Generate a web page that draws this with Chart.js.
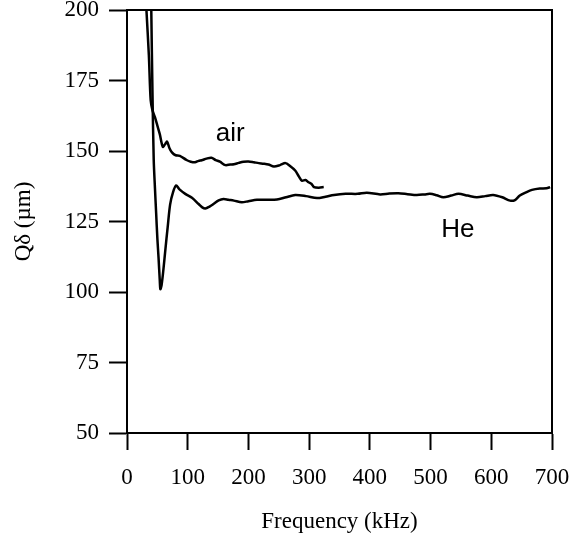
<!DOCTYPE html>
<html>
<head>
<meta charset="utf-8">
<script src="https://cdn.jsdelivr.net/npm/chart.js@4"></script>
<style>
  body { margin: 0; background: #fff; }
  #wrap { width: 587px; height: 541px; position: relative; }
</style>
</head>
<body>
<div id="wrap"><canvas id="chart"></canvas></div>
<script>
// data
const xTicks = [0, 100, 200, 300, 400, 500, 600, 700];
const yTicks = [50, 75, 100, 125, 150, 175, 200];

const airKHz = [32, 36, 39, 42, 46, 50, 54, 59, 63, 66, 70, 74, 80, 87, 98, 105, 112, 118, 123, 131, 139, 146, 153, 162, 170, 176, 184, 192, 200, 209, 217, 225, 233, 242, 252, 261, 268, 277, 283, 288, 294, 299, 304, 308, 316, 324];
const airQ = [200, 184, 168, 164.4, 162, 159, 156, 151.5, 152.5, 153.3, 151, 149.5, 148.5, 148.3, 146.8, 146.2, 146, 146.5, 146.7, 147.3, 147.6, 146.8, 146.2, 145, 145.2, 145.3, 145.8, 146.2, 146.3, 146, 145.7, 145.5, 145.2, 144.5, 145, 145.7, 144.8, 143.1, 141, 139.5, 139.7, 138.9, 138.3, 137.2, 137, 137.2];

const heKHz = [40, 42, 44, 46, 48, 50, 52, 54, 55, 57, 60, 63, 67, 71, 76, 81, 86, 96, 107, 118, 124, 129, 136, 143, 151, 159, 167, 176, 189, 200, 214, 230, 247, 262, 277, 295, 313, 327, 341, 360, 380, 395, 417, 432, 447, 462, 477, 490, 499, 510, 521, 534, 546, 561, 576, 590, 603, 618, 631, 639, 647, 657, 667, 680, 691, 697];
const heQ = [200, 170, 147, 137, 128, 119, 112, 104, 101, 102.5, 108, 114.6, 123, 131, 135.5, 137.8, 136.5, 134.8, 133.4, 131.2, 130, 129.6, 130.3, 131.3, 132.5, 133, 132.7, 132.4, 131.8, 132.2, 132.7, 132.7, 132.8, 133.6, 134.4, 134, 133.3, 133.8, 134.4, 134.8, 134.8, 135.2, 134.6, 134.9, 135, 134.7, 134.4, 134.6, 134.8, 134.3, 133.6, 134.2, 134.8, 134.2, 133.6, 134, 134.4, 133.6, 132.4, 132.6, 134.2, 135.3, 136.2, 136.7, 136.8, 137.2];

const labels = [
  { text: "air", x: 170, y: 156 },
  { text: "He", x: 545, y: 122 }
];

const toPoints = (xs, ys) => xs.map((x, i) => ({ x: x, y: ys[i] }));

// frame round the plot plus the two curve labels
const framePlugin = {
  id: "frame",
  afterDraw(chart) {
    const { ctx, chartArea, scales } = chart;
    ctx.save();
    ctx.strokeStyle = "#000";
    ctx.lineWidth = 2;
    ctx.strokeRect(chartArea.left, chartArea.top, chartArea.right - chartArea.left, chartArea.bottom - chartArea.top);
    ctx.fillStyle = "#000";
    ctx.font = "26px 'Liberation Sans', Arial, sans-serif";
    ctx.textAlign = "center";
    ctx.textBaseline = "middle";
    labels.forEach(l => {
      ctx.fillText(l.text, scales.x.getPixelForValue(l.x), scales.y.getPixelForValue(l.y));
    });
    ctx.restore();
  }
};

const serif = "'Liberation Serif', 'Times New Roman', serif";

new Chart(document.getElementById("chart"), {
  type: "scatter",
  data: {
    datasets: [
      {
        label: "air",
        data: toPoints(airKHz, airQ),
        showLine: true,
        borderColor: "#000",
        borderWidth: 2.5,
        pointRadius: 0,
        tension: 0.3
      },
      {
        label: "He",
        data: toPoints(heKHz, heQ),
        showLine: true,
        borderColor: "#000",
        borderWidth: 2.5,
        pointRadius: 0,
        tension: 0.3
      }
    ]
  },
  options: {
    responsive: true,
    maintainAspectRatio: false,
    animation: false,
    layout: { padding: { top: 10, right: 35, left: 0, bottom: 0 } },
    plugins: {
      legend: { display: false },
      tooltip: { enabled: false }
    },
    scales: {
      x: {
        type: "linear",
        min: 0,
        max: 700,
        afterBuildTicks: s => { s.ticks = xTicks.map(v => ({ value: v })); },
        afterFit: s => { s.height = 108; },
        border: { color: "#000", width: 2 },
        grid: { drawOnChartArea: false, tickLength: 17, tickWidth: 2, tickColor: "#000" },
        ticks: { color: "#000", padding: 14, maxRotation: 0, font: { family: serif, size: 23 } },
        title: {
          display: true,
          text: "Frequency (kHz)",
          color: "#000",
          font: { family: serif, size: 23 },
          padding: { top: 0, bottom: 5 }
        }
      },
      y: {
        min: 50,
        max: 200,
        afterBuildTicks: s => { s.ticks = yTicks.map(v => ({ value: v })); },
        afterFit: s => { s.width = 127; s.paddingTop = 0; s.paddingBottom = 0; },
        border: { color: "#000", width: 2 },
        grid: { drawOnChartArea: false, tickLength: 18, tickWidth: 2, tickColor: "#000" },
        ticks: { color: "#000", padding: 10, font: { family: serif, size: 23 } },
        title: {
          display: true,
          text: "Qδ (µm)",
          color: "#000",
          font: { family: serif, size: 23 },
          padding: { top: 10, bottom: 0 }
        }
      }
    }
  },
  plugins: [framePlugin]
});
</script>
</body>
</html>
